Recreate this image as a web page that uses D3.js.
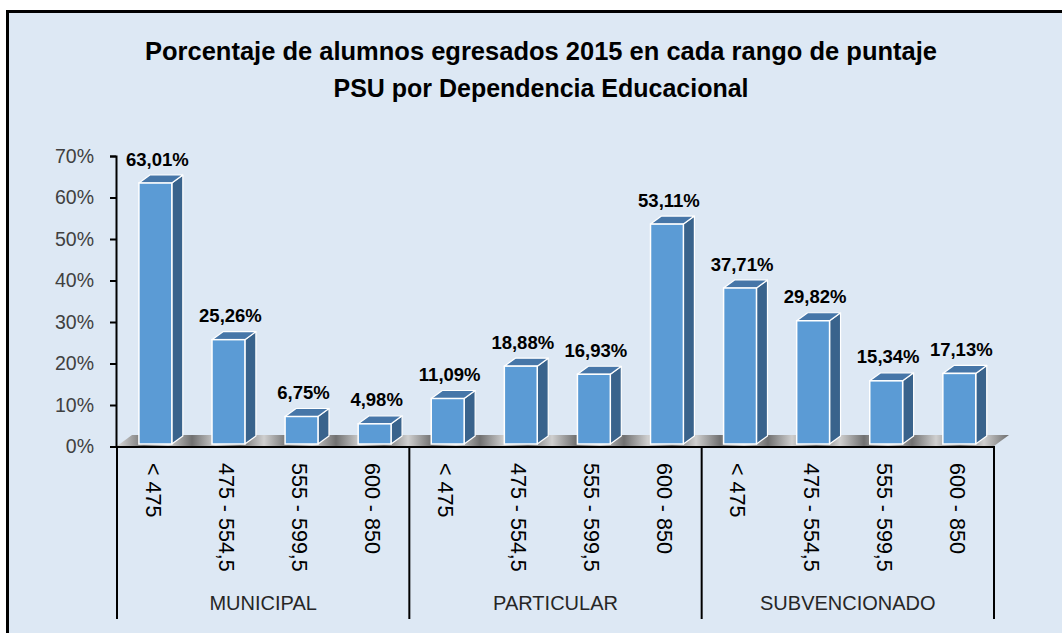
<!DOCTYPE html>
<html>
<head>
<meta charset="utf-8">
<script src="https://cdn.jsdelivr.net/npm/d3@7"></script>
<style>
  html, body { margin: 0; padding: 0; background: #ffffff; }
  svg { display: block; }
</style>
</head>
<body>
<svg id="chart" width="1062" height="633"></svg>
<script>
const titleLines = ["Porcentaje de alumnos egresados 2015 en cada rango de puntaje", "PSU por Dependencia Educacional"];
const groups = ["MUNICIPAL", "PARTICULAR", "SUBVENCIONADO"];
const ranges = ["< 475", "475 - 554,5", "555 - 599,5", "600 - 850"];
const municipal = [63.01, 25.26, 6.75, 4.98];
const particular = [11.09, 18.88, 16.93, 53.11];
const subvencionado = [37.71, 29.82, 15.34, 17.13];
const yTicks = [0, 10, 20, 30, 40, 50, 60, 70];

const seriesByGroup = { "MUNICIPAL": municipal, "PARTICULAR": particular, "SUBVENCIONADO": subvencionado };
const fmt = v => v.toFixed(2).replace(".", ",") + "%";

const svg = d3.select("#chart");
const FONT = "'Liberation Sans', Arial, sans-serif";

// frame background
svg.append("rect").attr("x", 7.5).attr("y", 11.5).attr("width", 1080).attr("height", 640)
  .attr("fill", "#DDE8F4").attr("stroke", "#000").attr("stroke-width", 3);

// title
const titleW = [792, 415];
titleLines.forEach((t, i) => {
  svg.append("text").attr("x", 541).attr("y", 60 + i * 37)
    .attr("text-anchor", "middle").attr("font-family", FONT)
    .attr("font-weight", "bold").attr("font-size", 26).attr("fill", "#000")
    .attr("textLength", titleW[i]).attr("lengthAdjust", "spacingAndGlyphs")
    .text(t);
});

// scales
const y = d3.scaleLinear().domain([0, 70]).range([446.5, 156]);
const x0 = d3.scaleBand().domain(groups).range([117, 994]);
const x1 = d3.scaleBand().domain(ranges).range([0, x0.bandwidth()]);

const DX = 11, DY = -8;

// floor
const defs = svg.append("defs");
const fg = defs.append("linearGradient").attr("id", "floorGrad")
  .attr("gradientUnits", "userSpaceOnUse").attr("x1", 0).attr("y1", 0).attr("x2", 24).attr("y2", 0)
  .attr("spreadMethod", "reflect");
fg.append("stop").attr("offset", "0%").attr("stop-color", "#707070");
fg.append("stop").attr("offset", "100%").attr("stop-color", "#cfcfcf");

const fx0 = x0.range()[0], fx1 = x0.range()[1], fy = y(0) - 0.5;
svg.append("path")
  .attr("d", `M${fx0},${fy} L${fx1},${fy} L${fx1 + 15},${fy - 11} L${fx0 + 15},${fy - 11} Z`)
  .attr("fill", "url(#floorGrad)");

// y axis
const yAxis = d3.axisLeft(y).tickValues(yTicks).tickSize(6).tickPadding(16)
  .tickFormat(d => d + "%");
const ya = svg.append("g").attr("transform", "translate(116,0)").call(yAxis);
ya.select(".domain").attr("stroke", "#000").attr("stroke-width", 2);
ya.selectAll(".tick line").attr("stroke", "#000").attr("stroke-width", 2);
ya.selectAll(".tick text").attr("font-family", FONT).attr("font-size", 19.5).attr("fill", "#404040");

// bars
const bars = [];
groups.forEach(g => {
  seriesByGroup[g].forEach((v, i) => bars.push({ g, r: ranges[i], v }));
});

const barG = svg.append("g");
bars.forEach(d => {
  const bw = x1.bandwidth() * 0.45;
  const xl = x0(d.g) + x1(d.r) + x1.bandwidth() * 0.3;
  const yb = y(0) - 2.5, yt = y(d.v) - 2;
  const g = barG.append("g");
  g.append("path").attr("d", `M${xl + bw},${yb} L${xl + bw + DX},${yb + DY} L${xl + bw + DX},${yt + DY} L${xl + bw},${yt} Z`)
    .attr("fill", "#39638C").attr("stroke", "#fff").attr("stroke-width", 1.2).attr("stroke-linejoin", "round");
  g.append("path").attr("d", `M${xl},${yt} L${xl + DX},${yt + DY} L${xl + bw + DX},${yt + DY} L${xl + bw},${yt} Z`)
    .attr("fill", "#4676A8").attr("stroke", "#fff").attr("stroke-width", 1.2).attr("stroke-linejoin", "round");
  g.append("rect").attr("x", xl).attr("y", yt).attr("width", bw).attr("height", yb - yt)
    .attr("fill", "#5B9BD5").attr("stroke", "#fff").attr("stroke-width", 1.5);
  svg.append("text").attr("x", xl + bw / 2 + 2).attr("y", yt - 17.5)
    .attr("text-anchor", "middle").attr("font-family", FONT).attr("font-weight", "bold")
    .attr("font-size", 18.5).attr("fill", "#000").text(fmt(d.v));
});

// category axis lines
svg.append("line").attr("x1", 110).attr("x2", 994).attr("y1", 447).attr("y2", 447)
  .attr("stroke", "#000").attr("stroke-width", 2);
const seps = groups.map(g => x0(g)).concat([x0.range()[1]]);
seps.forEach(sx => {
  svg.append("line").attr("x1", sx).attr("x2", sx).attr("y1", 446).attr("y2", 619)
    .attr("stroke", "#000").attr("stroke-width", 2);
});

// rotated range labels
groups.forEach(g => {
  ranges.forEach(r => {
    const cx = x0(g) + x1(r) + x1.bandwidth() / 2;
    svg.append("text").attr("transform", `translate(${cx},463) rotate(90)`)
      .attr("dy", "0.36em").attr("text-anchor", "start")
      .attr("font-family", FONT).attr("font-size", 21.5).attr("fill", "#000").text(r);
  });
  svg.append("text").attr("x", x0(g) + x0.bandwidth() / 2).attr("y", 610)
    .attr("text-anchor", "middle").attr("font-family", FONT).attr("font-size", 20)
    .attr("fill", "#262626").text(g);
});
</script>
</body>
</html>
